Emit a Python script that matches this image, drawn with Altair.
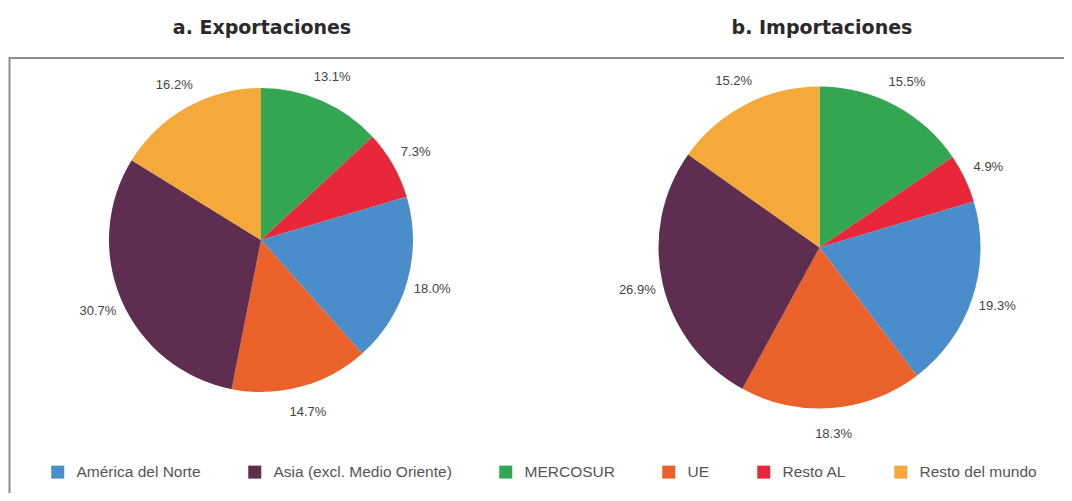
import altair as alt
import pandas as pd

# ---- data ----
regions = ["MERCOSUR", "Resto AL", "América del Norte", "UE",
           "Asia (excl. Medio Oriente)", "Resto del mundo"]
exportaciones = [13.1, 7.3, 18.0, 14.7, 30.7, 16.2]
importaciones = [15.5, 4.9, 19.3, 18.3, 26.9, 15.2]
panel_titles = ["a. Exportaciones", "b. Importaciones"]
legend_order = ["América del Norte", "Asia (excl. Medio Oriente)", "MERCOSUR",
                "UE", "Resto AL", "Resto del mundo"]
legend_colors = ["#4a8dcb", "#5e2d4f", "#33a652", "#ea6229", "#e8283a", "#f4a93a"]

color_scale = alt.Scale(domain=legend_order, range=legend_colors)


def pie(values, title, cx, cy, r, tx):
    df = pd.DataFrame({
        "region": regions,
        "value": values,
        "orden": list(range(len(regions))),
        "label": [f"{v:.1f}%" for v in values],
    })
    base = alt.Chart(df).encode(
        theta=alt.Theta("value:Q", stack=True),
        order=alt.Order("orden:Q"),
        x=alt.value(cx),
        y=alt.value(cy),
    )
    arc = base.mark_arc(outerRadius=r).encode(
        color=alt.Color("region:N", scale=color_scale, title=None)
    )
    lbl = base.mark_text(radius=r + 26, fontSize=13, color="#444444",
                         font="Liberation Sans").encode(text="label:N")
    ttl = alt.Chart(pd.DataFrame({"t": [title]})).mark_text(
        font="DejaVu Sans", fontWeight="bold", fontSize=19, color="#2a2a2a",
        baseline="middle", align="center"
    ).encode(x=alt.value(tx), y=alt.value(20), text="t:N")
    return arc + lbl + ttl


border = alt.Chart(pd.DataFrame({"b": [0]})).mark_rect(
    fillOpacity=0, stroke="#8c8c8c", strokeWidth=2
).encode(x=alt.value(1.5), x2=alt.value(1070), y=alt.value(50), y2=alt.value(500))

chart = alt.layer(
    border,
    pie(exportaciones, panel_titles[0], 253, 232, 152, 254),
    pie(importaciones, panel_titles[1], 811.5, 239.5, 161, 814),
).resolve_scale(theta="independent").properties(
    width=1056, height=485, padding=0,
    autosize=alt.AutoSizeParams(type="none"),
).configure_view(stroke=None).configure_legend(
    orient="none", legendX=42, legendY=456, direction="horizontal",
    symbolType="square", symbolSize=169, symbolStrokeWidth=0,
    labelFontSize=15.5, labelFont="Liberation Sans", labelColor="#555555",
    labelOffset=11, columnPadding=46, padding=0, labelLimit=0,
)

chart.save("out.html", embed_options={"renderer": "svg", "actions": False})
